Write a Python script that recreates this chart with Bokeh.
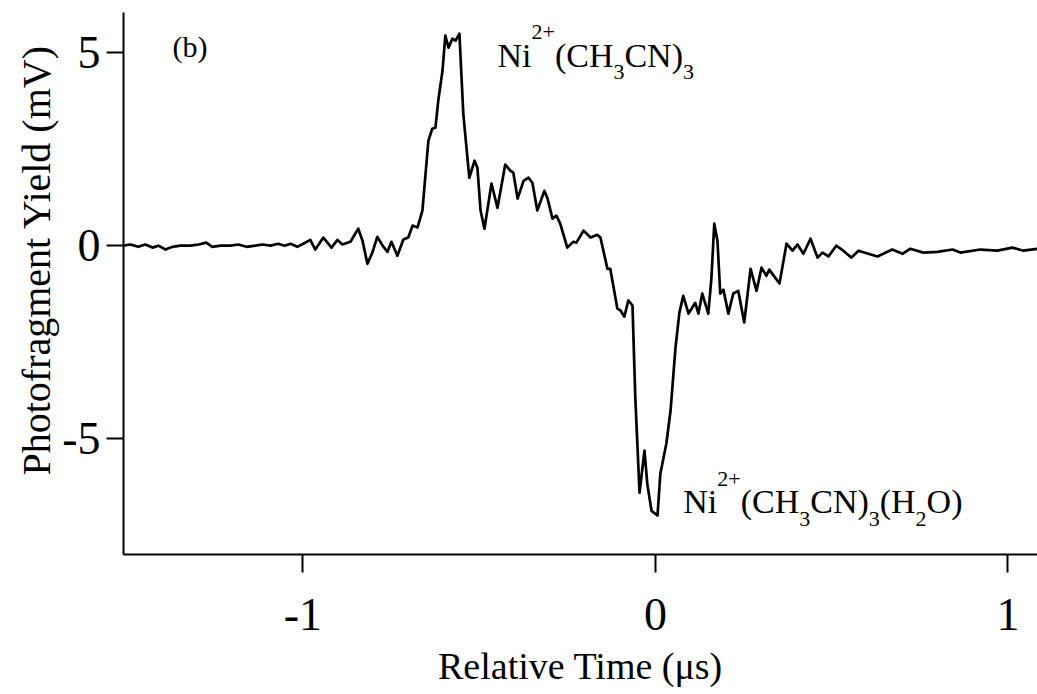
from bokeh.plotting import figure
from bokeh.models import Range1d, FixedTicker, Label, Title
from bokeh.embed import file_html
from bokeh.resources import INLINE

# ---- data ----
time_us = [
    -1.509, -1.489, -1.467, -1.447, -1.427, -1.410, -1.390, -1.370, -1.348, -1.319,
    -1.296, -1.274, -1.257, -1.234, -1.206, -1.183, -1.160, -1.135, -1.115, -1.092,
    -1.070, -1.052, -1.035, -1.016, -0.999, -0.979, -0.965, -0.942, -0.919, -0.902,
    -0.888, -0.865, -0.843, -0.831, -0.817, -0.803, -0.789, -0.774, -0.760, -0.749,
    -0.732, -0.715, -0.701, -0.689, -0.675, -0.661, -0.644, -0.633, -0.624, -0.616,
    -0.604, -0.596, -0.587, -0.576, -0.567, -0.556, -0.545, -0.528, -0.513, -0.505,
    -0.496, -0.485, -0.465, -0.448, -0.426, -0.411, -0.403, -0.391, -0.374, -0.360,
    -0.349, -0.335, -0.315, -0.306, -0.292, -0.281, -0.270, -0.250, -0.233, -0.224,
    -0.204, -0.184, -0.165, -0.156, -0.136, -0.128, -0.122, -0.108, -0.099, -0.088,
    -0.077, -0.065, -0.057, -0.045, -0.031, -0.023, -0.011, 0.006, 0.014, 0.031,
    0.043, 0.057, 0.068, 0.079, 0.094, 0.113, 0.122, 0.133, 0.150, 0.159,
    0.167, 0.176, 0.184, 0.193, 0.207, 0.221, 0.235, 0.252, 0.270, 0.287,
    0.301, 0.315, 0.323, 0.352, 0.372, 0.389, 0.403, 0.420, 0.440, 0.460,
    0.474, 0.491, 0.513, 0.533, 0.556, 0.576, 0.604, 0.630, 0.672, 0.701,
    0.723, 0.760, 0.800, 0.843, 0.865, 0.922, 0.970, 1.013, 1.044, 1.084,
]
yield_mv = [
    0.00, 0.03, -0.03, 0.03, -0.05, 0.00, -0.10, -0.03, 0.00, 0.00,
    0.03, 0.08, -0.03, 0.00, 0.00, 0.03, -0.03, 0.00, 0.03, 0.00,
    0.05, 0.00, 0.05, -0.03, 0.05, 0.15, -0.10, 0.21, -0.05, 0.15,
    0.03, 0.10, 0.44, 0.13, -0.47, -0.18, 0.23, 0.00, -0.16, 0.10,
    -0.26, 0.16, 0.21, 0.52, 0.47, 0.91, 2.72, 3.03, 3.06, 3.76,
    4.53, 5.44, 5.13, 5.36, 5.31, 5.49, 3.42, 1.76, 2.20, 2.02,
    0.91, 0.44, 1.61, 0.98, 2.10, 1.94, 1.89, 1.22, 1.68, 1.76,
    1.63, 0.91, 1.42, 1.22, 0.70, 0.78, 0.57, -0.05, 0.10, 0.08,
    0.39, 0.21, 0.28, 0.21, -0.60, -0.60, -0.91, -1.63, -1.68, -1.84,
    -1.42, -1.55, -3.94, -6.40, -5.31, -6.17, -6.87, -6.99, -5.91, -5.13,
    -4.27, -2.64, -1.74, -1.30, -1.76, -1.48, -1.76, -1.24, -1.76, -0.83,
    0.57, 0.13, -1.24, -1.14, -1.76, -1.24, -1.17, -1.99, -0.60, -1.17,
    -0.57, -0.78, -0.62, -0.98, 0.05, -0.13, 0.03, -0.21, 0.18, -0.31,
    -0.18, -0.28, 0.00, -0.13, -0.31, -0.13, -0.21, -0.28, -0.10, -0.21,
    -0.08, -0.18, -0.16, -0.10, -0.18, -0.10, -0.13, -0.05, -0.13, -0.08,
]
x_ticks = [-1, 0, 1]
y_ticks = [-5, 0, 5]
x_limits = (-1.509, 1.084)
y_limits = (-8.0, 6.04)

x_title = "Relative Time (μs)"
y_title = "Photofragment Yield (mV)"
panel_tag = "(b)"
# annotation pieces: (text, kind) kind: n = normal, sup = superscript, sub = subscript
label_top = [("Ni", "n"), ("2+", "sup"), ("(CH", "n"), ("3", "sub"), ("CN)", "n"), ("3", "sub")]
label_bottom = [("Ni", "n"), ("2+", "sup"), ("(CH", "n"), ("3", "sub"), ("CN)", "n"), ("3", "sub"),
                ("(H", "n"), ("2", "sub"), ("O)", "n")]
label_top_pos = (-0.448, 4.93)
label_bottom_pos = (0.079, -6.64)
tag_pos = (-1.370, 5.16)

FONT = "Liberation Serif"
TICK = 46
TITLE = 38
YTITLE = 40
ANN = 34
SMALL = 22

# approximate advance widths (em) of the serif font, to place the pieces
EM = {"N": .722, "i": .278, "2": .5, "+": .564, "(": .333, "C": .667, "H": .722,
      "3": .5, ")": .333, "O": .722}

p = figure(width=1037, height=694, output_backend="svg", toolbar_location=None,
           x_range=Range1d(*x_limits), y_range=Range1d(*y_limits),
           min_border_left=123, min_border_right=0, min_border_top=12,
           min_border_bottom=140)
p.outline_line_color = None
p.grid.visible = False
p.background_fill_color = "white"
p.border_fill_color = "white"

p.line(time_us, yield_mv, line_color="black", line_width=2.7, line_join="round")

for ax, ticks in ((p.xaxis, x_ticks), (p.yaxis, y_ticks)):
    ax.ticker = FixedTicker(ticks=ticks)
    ax.axis_line_color = "black"
    ax.axis_line_width = 2
    ax.major_tick_line_color = "black"
    ax.major_tick_line_width = 2
    ax.major_tick_in = 0
    ax.minor_tick_in = 0
    ax.minor_tick_out = 0
    ax.major_label_text_font = FONT
    ax.major_label_text_font_size = f"{TICK}px"
    ax.major_label_text_color = "black"

p.xaxis.major_tick_out = 18
p.yaxis.major_tick_out = 17
p.xaxis.major_label_standoff = 26
p.yaxis.major_label_standoff = 6
p.xaxis.major_label_overrides = {t: str(t) for t in x_ticks}
p.yaxis.major_label_overrides = {t: str(t) for t in y_ticks}

p.xaxis.axis_label = x_title
p.xaxis.axis_label_text_font = FONT
p.xaxis.axis_label_text_font_size = f"{TITLE}px"
p.xaxis.axis_label_text_font_style = "normal"
p.xaxis.axis_label_text_color = "black"
p.xaxis.axis_label_standoff = 12

# vertical y title in its own side panel; its top end sits a little below the frame top
p.add_layout(Title(text=y_title, text_font=FONT, text_font_size=f"{YTITLE}px",
                   text_font_style="normal", text_color="black", align="right",
                   offset=32, standoff=2), "left")


def add_formula(pieces, pos):
    off = 0.0
    for txt, kind in pieces:
        size = ANN if kind == "n" else SMALL
        dy = 0
        if kind == "sup":
            dy = 23
        elif kind == "sub":
            dy = -17
        p.add_layout(Label(x=pos[0], y=pos[1], x_offset=off, y_offset=dy, text=txt,
                           text_font=FONT, text_font_size=f"{size}px",
                           text_baseline="alphabetic", text_align="left",
                           text_color="black"))
        off += sum(EM.get(c, 0.5) for c in txt) * size


add_formula(label_top, label_top_pos)
add_formula(label_bottom, label_bottom_pos)
p.add_layout(Label(x=tag_pos[0], y=tag_pos[1], text=panel_tag, text_font=FONT,
                   text_font_size="30px", text_baseline="alphabetic",
                   text_align="left", text_color="black"))

open("out.html", "w").write(file_html(p, INLINE))
